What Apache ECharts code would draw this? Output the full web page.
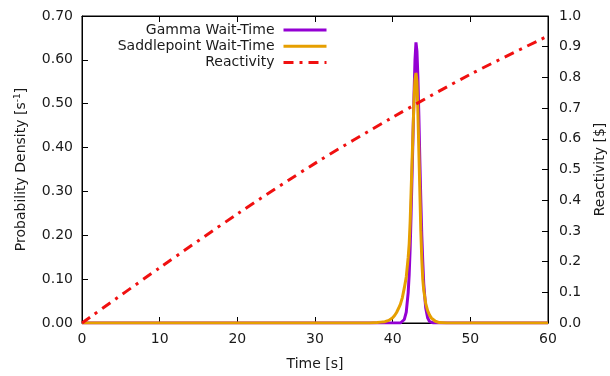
<!DOCTYPE html>
<html>
<head>
<meta charset="utf-8">
<script src="https://cdn.jsdelivr.net/npm/echarts@6/dist/echarts.min.js"></script>
<style>html,body{margin:0;padding:0;background:#fff;}#c{width:610px;height:376px;}</style>
</head>
<body>
<div id="c"></div>
<script>
// Gamma wait-time density
const gammaTime   = [0, 41.0, 41.25, 41.5, 41.75, 42.0, 42.125, 42.25, 42.375, 42.5, 42.625, 42.75, 42.875, 43.0, 43.125, 43.25, 43.375, 43.5, 43.625, 43.75, 43.875, 44.0, 44.25, 44.5, 44.75, 45.0, 45.25, 60];
const gammaValues = [0, 0,    0.002, 0.008, 0.025, 0.07, 0.11,  0.17,  0.25,   0.34, 0.43,   0.52,  0.6,    0.64, 0.62,   0.56,  0.47,   0.37, 0.28,   0.2,   0.14,   0.09, 0.035, 0.012, 0.003, 0.0005, 0, 0];
// Saddlepoint wait-time density
const saddleTime   = [0, 37.0, 38.0, 38.5, 39.0, 39.5, 40.0, 40.25, 40.5, 40.75, 41.0, 41.25, 41.5, 41.75, 42.0, 42.125, 42.25, 42.375, 42.5, 42.625, 42.75, 42.875, 43.0, 43.125, 43.25, 43.375, 43.5, 43.625, 43.75, 43.875, 44.0, 44.25, 44.5, 44.75, 45.0, 45.5, 46.0, 47.0, 60];
const saddleValues = [0, 0,    0.001, 0.002, 0.003, 0.006, 0.012, 0.017, 0.024, 0.033, 0.043, 0.058, 0.08, 0.105, 0.15, 0.18,   0.23,  0.3,    0.37, 0.44,   0.51,  0.555,  0.57, 0.55,   0.48,  0.39,   0.3,  0.21,   0.145, 0.1,    0.075, 0.045, 0.028, 0.018, 0.011, 0.004, 0.001, 0, 0];
// Reactivity ($)
const reactTime   = [0, 10, 20, 30, 40, 50, 60];
const reactValues = [0, 0.18, 0.355, 0.52, 0.67, 0.81, 0.935];

const seriesNames = ['Gamma Wait-Time', 'Saddlepoint Wait-Time', 'Reactivity'];
const xTicks = [0, 10, 20, 30, 40, 50, 60];

const zip = (a, b) => a.map((v, i) => [v, b[i]]);
const txt = '#1a1a1a';
const font = 'DejaVu Sans';
const fs = 14;

const chart = echarts.init(document.getElementById('c'), null, {renderer: 'canvas'});
chart.setOption({
  animation: false,
  backgroundColor: '#fff',
  textStyle: {fontFamily: font, color: txt},
  grid: {left: 82, right: 62, top: 16, bottom: 53, containLabel: false, outerBoundsMode: 'none', show: true, borderColor: '#000', borderWidth: 1, backgroundColor: 'transparent'},
  legend: {
    orient: 'vertical', right: 282, top: 23, padding: 0, align: 'right',
    itemWidth: 43, itemHeight: 14, itemGap: 2.2,
    itemStyle: {opacity: 0},
    lineStyle: {width: 3},
    textStyle: {fontFamily: font, fontSize: fs, color: txt, padding: [0, 4, 0, 0]},
    data: seriesNames.map(n => ({name: n}))
  },
  xAxis: [{
    type: 'value', min: xTicks[0], max: xTicks[xTicks.length - 1], interval: 10,
    name: 'Time [s]', nameLocation: 'middle', nameGap: 34,
    nameTextStyle: {fontFamily: font, fontSize: fs, color: txt},
    axisLine: {show: true, onZero: false, lineStyle: {color: '#000'}},
    axisTick: {show: true, inside: true, length: 6, lineStyle: {color: '#000'}},
    axisLabel: {fontFamily: font, fontSize: fs, color: txt, margin: 9},
    splitLine: {show: false}
  }, {
    type: 'value', position: 'top', min: 0, max: 60, interval: 10,
    axisLine: {show: true, onZero: false, lineStyle: {color: '#000'}},
    axisTick: {show: true, inside: true, length: 6, lineStyle: {color: '#000'}},
    axisLabel: {show: false}, splitLine: {show: false}
  }],
  yAxis: [{
    type: 'value', min: 0, max: 0.7, interval: 0.1,
    name: 'Probability Density [s{sup|-1}]', nameLocation: 'middle', nameGap: 53, nameRotate: 90,
    nameTextStyle: {fontFamily: font, fontSize: fs, color: txt, rich: {sup: {fontFamily: font, fontSize: 9, color: txt, verticalAlign: 'bottom', padding: [0, 0, 7, 0]}}},
    axisLine: {show: true, onZero: false, lineStyle: {color: '#000'}},
    axisTick: {show: true, inside: true, length: 6, lineStyle: {color: '#000'}},
    axisLabel: {fontFamily: font, fontSize: fs, color: txt, margin: 9, formatter: v => v.toFixed(2)},
    splitLine: {show: false}
  }, {
    type: 'value', min: 0, max: 1.0, interval: 0.1, position: 'right',
    name: 'Reactivity [$]', nameLocation: 'middle', nameGap: 45, nameRotate: 90,
    nameTextStyle: {fontFamily: font, fontSize: fs, color: txt},
    axisLine: {show: true, onZero: false, lineStyle: {color: '#000'}},
    axisTick: {show: true, inside: true, length: 6, lineStyle: {color: '#000'}},
    axisLabel: {fontFamily: font, fontSize: fs, color: txt, margin: 11, formatter: v => v.toFixed(1)},
    splitLine: {show: false}
  }],
  series: [{
    name: seriesNames[0], type: 'line', xAxisIndex: 0, yAxisIndex: 0,
    data: zip(gammaTime, gammaValues), symbol: 'none', showSymbol: false,
    lineStyle: {color: '#9400d3', width: 3}, itemStyle: {color: '#9400d3'}, z: 2
  }, {
    name: seriesNames[1], type: 'line', xAxisIndex: 0, yAxisIndex: 0,
    data: zip(saddleTime, saddleValues), symbol: 'none', showSymbol: false,
    lineStyle: {color: '#e69f00', width: 3}, itemStyle: {color: '#e69f00'}, z: 3
  }, {
    name: seriesNames[2], type: 'line', xAxisIndex: 0, yAxisIndex: 1,
    data: zip(reactTime, reactValues), symbol: 'none', showSymbol: false,
    smooth: 0.3,
    lineStyle: {color: '#f01010', width: 3, type: [10, 6, 3, 6]}, itemStyle: {color: '#f01010'}, z: 4
  }]
});
</script>
</body>
</html>
